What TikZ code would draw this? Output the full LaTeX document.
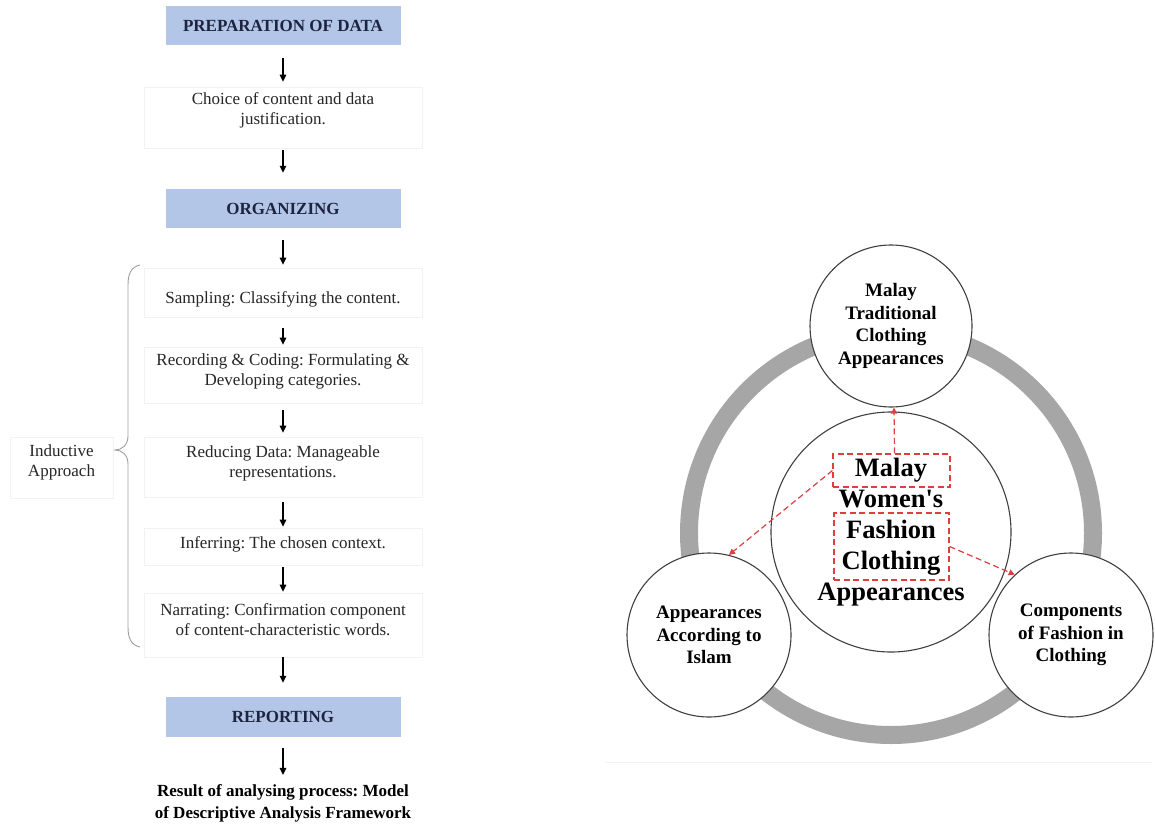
\documentclass[tikz,border=0pt]{standalone}
\usepackage{fontspec}
\setmainfont{Liberation Serif}
\usetikzlibrary{arrows.meta}
\definecolor{bluefill}{RGB}{180,198,231}
\definecolor{navytext}{RGB}{28,36,64}
\definecolor{ringgray}{RGB}{166,166,166}
\definecolor{dashred}{RGB}{222,62,62}
\frenchspacing
\begin{document}
\frenchspacing
\begin{tikzpicture}[x=1pt,y=-1pt,
  bluebox/.style={fill=bluefill, minimum width=235pt, minimum height=39pt, inner sep=0pt,
    font=\fontsize{17}{20}\selectfont\bfseries, text=navytext},
  wbox/.style={draw=gray!10, line width=0.6pt, minimum width=278pt, inner sep=0pt},
  wtext/.style={align=center, font=\fontsize{17}{20}\selectfont, text=black!85, inner sep=0pt},
  arr/.style={line width=1.4pt, -{Triangle[length=7pt,width=6.5pt]}},
  circ/.style={circle, draw=black!75, line width=1.1pt, fill=white, inner sep=0pt, align=center},
  smallfont/.style={font=\fontsize{19}{22.5}\selectfont\bfseries},
  dbox/.style={draw=dashred, dash pattern=on 6pt off 3.5pt, line width=1.2pt, inner sep=0pt},
  rarr/.style={draw=dashred, dash pattern=on 6pt off 3.5pt, line width=1.2pt,
    -{Triangle[length=6pt,width=6pt]}}
]
\useasboundingbox (0,0) rectangle (1155,824);
\fill[white] (0,0) rectangle (1155,824);

% ---------- left flow ----------
\node[bluebox] (prep) at (283,25.5) {PREPARATION OF DATA};
\node[wbox, minimum height=61pt] (choice) at (283,117.5) {};
\node[wtext] (choiceT) at (283,110) {Choice of content and data\\justification.};
\node[bluebox] (organ) at (283,208.5) {ORGANIZING};
\node[wbox, minimum height=49pt] (samp) at (283,292.5) {};
\node[wtext] (sampT) at (283,299) {Sampling: Classifying the content.};
\node[wbox, minimum height=56pt] (rec) at (283,375) {};
\node[wtext] (recT) at (283,371.5) {Recording \& Coding: Formulating \&\\Developing categories.};
\node[wbox, minimum height=60pt] (reduc) at (283,467) {};
\node[wtext] (reducT) at (283,463) {Reducing Data: Manageable\\representations.};
\node[wbox, minimum height=37pt] (inf) at (283,546.5) {};
\node[wtext] (infT) at (283,544) {Inferring: The chosen context.};
\node[wbox, minimum height=64pt] (narr) at (283,625) {};
\node[wtext] (narrT) at (283,619.5) {Narrating: Confirmation component\\of content-characteristic words.};
\node[bluebox, minimum height=40pt] (rep) at (283,717) {REPORTING};
\node[wtext, font=\fontsize{17}{22}\selectfont\bfseries, text=black] (res) at (283,803)
  {Result of analysing process: Model\\of Descriptive Analysis Framework};

\draw[arr] ([yshift=-13pt]prep.south) -- ([yshift=5pt]choice.north);
\draw[arr] ([yshift=-2pt]choice.south) -- ([yshift=16pt]organ.north);
\draw[arr] ([yshift=-12pt]organ.south) -- ([yshift=3pt]samp.north);
\draw[arr] ([yshift=-11pt]samp.south) -- ([yshift=2pt]rec.north);
\draw[arr] ([yshift=-7pt]rec.south) -- ([yshift=4pt]reduc.north);
\draw[arr] ([yshift=-5pt]reduc.south) -- ([yshift=1pt]inf.north);
\draw[arr] ([yshift=-2pt]inf.south) -- ([yshift=1pt]narr.north);
\draw[arr] (narr.south) -- ([yshift=14pt]rep.north);
\draw[arr] ([yshift=-11pt]rep.south) -- ([yshift=9pt]res.north);

% brace and inductive approach
\draw[gray!75, line width=0.9pt] (140,265) .. controls (131,267) and (128,274) .. (128,285)
  -- (128,436) .. controls (128,445) and (122,450) .. (115,450)
  .. controls (122,450) and (128,455) .. (128,464)
  -- (128,627) .. controls (128,638) and (131,645) .. (140,647);
\node[wbox, minimum width=103pt, minimum height=61pt] (indB) at (61.5,467.5) {};
\node[wtext] (indT) at (61.5,462) {Inductive\\Approach};

% ---------- right diagram ----------
\draw[gray!10, line width=0.8pt] (605,762) -- (1152,762);
\draw[ringgray, line width=18pt] (891,533) circle[radius=202pt];

\node[circ, minimum size=240pt, font=\fontsize{26.5}{31}\selectfont\bfseries] (big) at (891,532)
  {Malay\\Women\textquotesingle s\\Fashion\\Clothing\\Appearances};
\node[circ, minimum size=162pt, smallfont] (top) at (891,326)
  {Malay\\Traditional\\Clothing\\Appearances};
\node[circ, minimum size=164pt, smallfont] (lc) at (709,635)
  {Appearances\\According to\\Islam};
\node[circ, minimum size=164pt, smallfont] (rc) at (1071,635)
  {Components\\of Fashion in\\Clothing};

\node[dbox, minimum width=117pt, minimum height=33pt] (mb1) at (891.5,470.5) {};
\node[dbox, minimum width=115pt, minimum height=67pt] (mb2) at (891.5,546.5) {};

\draw[rarr] ([xshift=3pt]mb1.north) -- ([xshift=3pt]top.south);
\draw[rarr] (mb1.west) -- (lc.76);
\draw[rarr] (mb2.east) -- (rc.133);
\end{tikzpicture}
\end{document}
